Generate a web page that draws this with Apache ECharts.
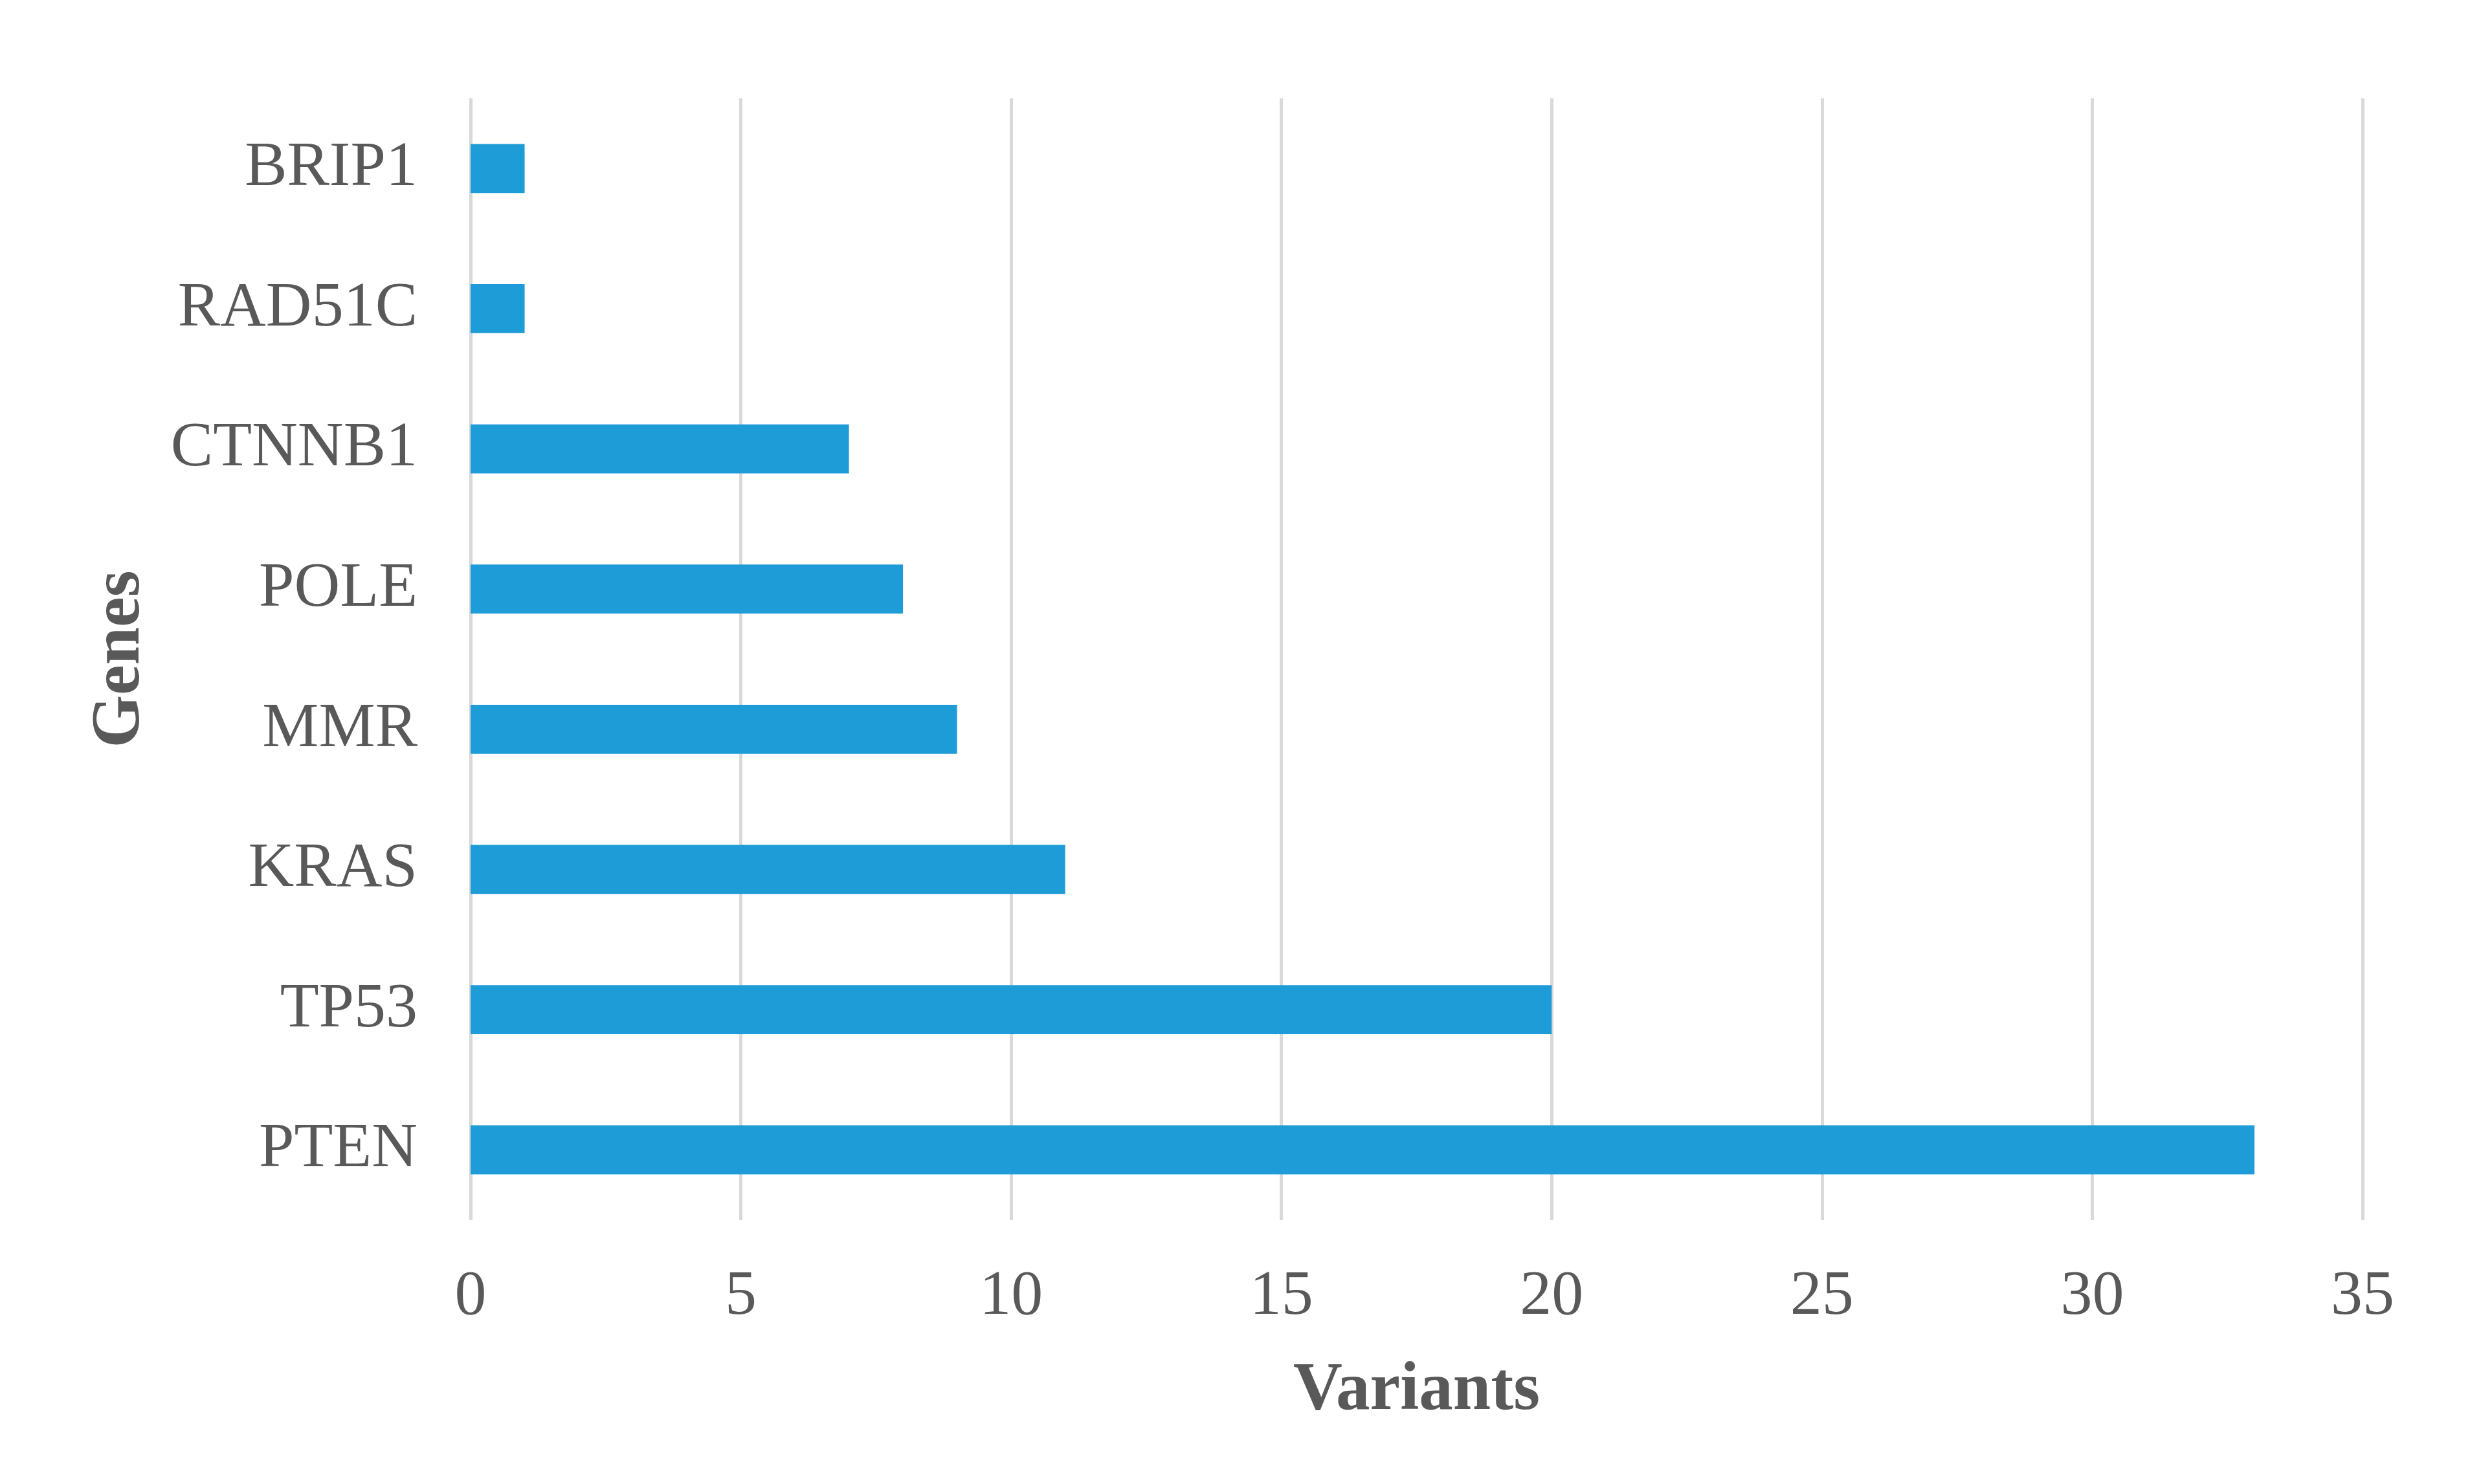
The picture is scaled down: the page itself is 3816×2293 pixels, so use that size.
<!DOCTYPE html>
<html>
<head>
<meta charset="utf-8">
<script src="https://cdn.jsdelivr.net/npm/echarts@6/dist/echarts.min.js"></script>
<style>
  html, body { margin: 0; padding: 0; background: #fff; }
  #main { width: 3816px; height: 2293px; }
</style>
</head>
<body>
<div id="main"></div>
<script>
// genes, bottom to top
var genes = ['PTEN', 'TP53', 'KRAS', 'MMR', 'POLE', 'CTNNB1', 'RAD51C', 'BRIP1'];
var variants = [33, 20, 11, 9, 8, 7, 1, 1];

var chart = echarts.init(document.getElementById('main'));
var font = '"Liberation Serif", "Times New Roman", serif';

option = {
	backgroundColor: '#ffffff',
	animation: false,
	grid: {
		left: 727,
		right: 166,
		top: 152,
		bottom: 408
	},
	xAxis: {
		type: 'value',
		min: 0,
		max: 35,
		interval: 5,
		name: 'Variants',
		nameLocation: 'middle',
		nameGap: 212,
		nameTextStyle: {
			fontFamily: font,
			fontSize: 105,
			fontWeight: 'bold',
			color: '#595959'
		},
		axisLine: { show: false },
		axisTick: { show: false },
		axisLabel: {
			margin: 70,
			fontFamily: font,
			fontSize: 98,
			color: '#595959'
		},
		splitLine: {
			show: true,
			lineStyle: { color: '#d9d9d9', width: 5 }
		}
	},
	yAxis: {
		type: 'category',
		data: genes,
		name: 'Genes',
		nameLocation: 'middle',
		nameGap: 488,
		nameTextStyle: {
			fontFamily: font,
			fontSize: 105,
			fontWeight: 'bold',
			color: '#595959'
		},
		axisLine: { show: false },
		axisTick: { show: false },
		axisLabel: {
			margin: 82,
			fontFamily: font,
			fontSize: 98,
			color: '#595959'
		},
		splitLine: { show: false }
	},
	series: [{
		type: 'bar',
		data: variants,
		barWidth: '35%',
		itemStyle: { color: '#1e9cd7' }
	}]
};
chart.setOption(option);
</script>
</body>
</html>
